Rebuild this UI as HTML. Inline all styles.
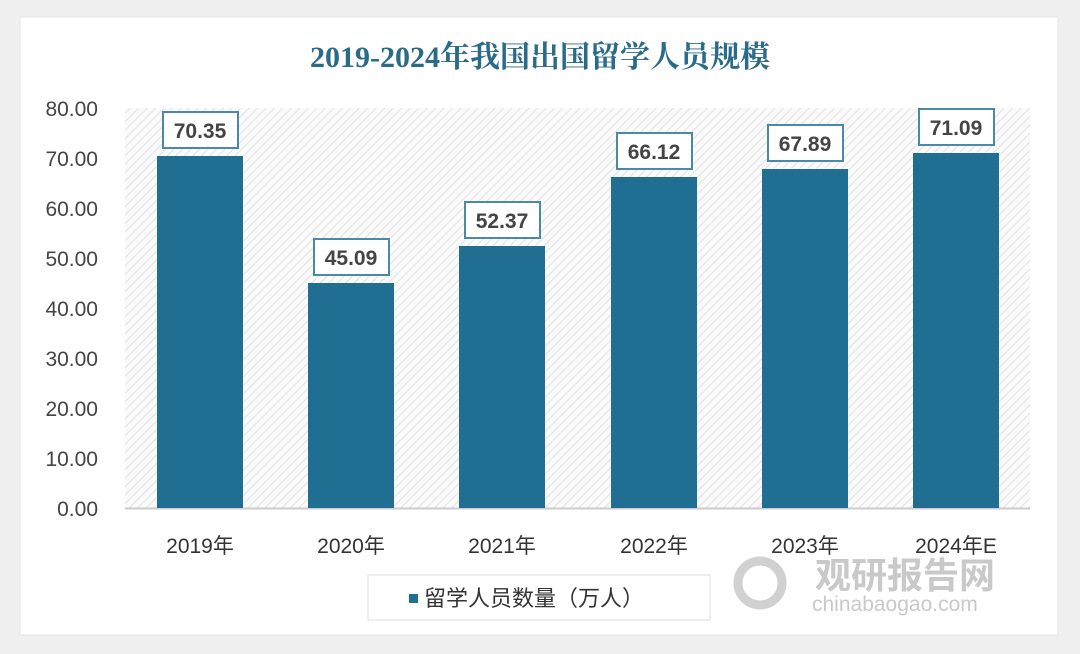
<!DOCTYPE html><html><head><meta charset="utf-8"><style>
body{margin:0;width:1080px;height:649px;background:#f0f0f0;overflow:hidden;font-family:"Liberation Sans","Noto Sans CJK SC",sans-serif}
</style></head><body>
<svg width="1080" height="649" xmlns="http://www.w3.org/2000/svg">
<defs><pattern id="h" width="6" height="6" patternUnits="userSpaceOnUse" patternTransform="rotate(45)"><rect width="6" height="6" fill="#fafafa"/><line x1="0" y1="0" x2="0" y2="6" stroke="#e2e2e2" stroke-width="2"/></pattern></defs>
<rect x="20" y="17" width="1038" height="618" fill="#fff" stroke="#e4e4e4"/>
<text x="540" y="67" text-anchor="middle" font-family="Liberation Serif,Noto Serif CJK SC,serif" font-weight="bold" font-size="30" fill="#2a6b8a">2019-2024年我国出国留学人员规模</text>
<rect x="125" y="108" width="905" height="400" fill="url(#h)"/>
<line x1="125" y1="508.5" x2="1030" y2="508.5" stroke="#ccc" stroke-width="2"/>
<g font-size="21" fill="#444" text-anchor="end">
<text x="98" y="116">80.00</text><text x="98" y="166">70.00</text><text x="98" y="216">60.00</text><text x="98" y="266">50.00</text><text x="98" y="316">40.00</text><text x="98" y="366">30.00</text><text x="98" y="416">20.00</text><text x="98" y="466">10.00</text><text x="98" y="516">0.00</text>
</g>
<g fill="#206f93">
<rect x="157" y="156" width="86" height="352"/>
<rect x="308" y="283" width="86" height="225"/>
<rect x="459" y="246" width="86" height="262"/>
<rect x="611" y="177" width="86" height="331"/>
<rect x="762" y="169" width="86" height="339"/>
<rect x="913" y="153" width="86" height="355"/>
</g>
<g fill="#fff" stroke="#4a8aa8" stroke-width="2">
<rect x="163" y="112" width="75" height="36"/>
<rect x="314" y="239" width="75" height="36"/>
<rect x="465" y="202" width="75" height="36"/>
<rect x="617" y="133" width="75" height="36"/>
<rect x="768" y="125" width="75" height="36"/>
<rect x="919" y="109" width="75" height="36"/>
</g>
<g font-size="21" fill="#444" text-anchor="middle" font-weight="bold">
<text x="200" y="138">70.35</text><text x="351" y="265">45.09</text><text x="502" y="228">52.37</text><text x="654" y="159">66.12</text><text x="805" y="151">67.89</text><text x="956" y="135">71.09</text>
</g>
<g font-size="21" fill="#333" text-anchor="middle">
<text x="200" y="553">2019年</text><text x="351" y="553">2020年</text><text x="502" y="553">2021年</text><text x="654" y="553">2022年</text><text x="805" y="553">2023年</text><text x="956" y="553">2024年E</text>
</g>
<rect x="368" y="575" width="342" height="45" fill="#fff" stroke="#ddd"/>
<rect x="409" y="594" width="9" height="9" fill="#206f93"/>
<text x="424" y="606" font-size="22" fill="#333">留学人员数量（万人）</text>
<g opacity="0.45">
<circle cx="760" cy="583" r="22" fill="none" stroke="#999" stroke-width="9"/>
<text x="815" y="588" font-size="36" font-weight="bold" fill="#888">观研报告网</text>
<text x="812" y="611" font-size="21" fill="#888">chinabaogao.com</text>
</g>
</svg>
</body></html>
